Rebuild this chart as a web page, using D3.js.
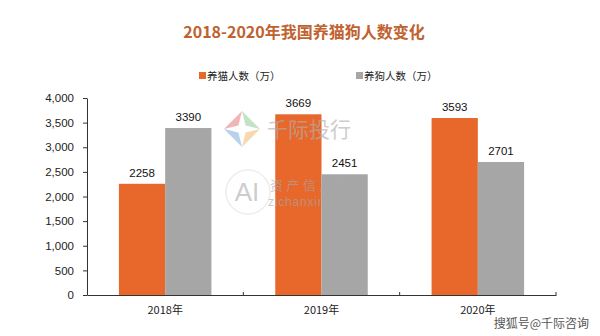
<!DOCTYPE html>
<html>
<head>
<meta charset="utf-8">
<script src="https://cdn.jsdelivr.net/npm/d3@7"></script>
<style>
  html, body { margin: 0; padding: 0; background: #fff; }
  svg { display: block; }
</style>
</head>
<body>
<svg id="chart" width="600" height="336"></svg>
<script>
// Cat and dog owners in China, 2018–2020 (unit: 万 people)
const years = ["2018年", "2019年", "2020年"];
const catOwners = [2258, 3669, 3593];
const dogOwners = [3390, 2451, 2701];
const seriesNames = ["养猫人数（万）", "养狗人数（万）"];
const yTicks = [0, 500, 1000, 1500, 2000, 2500, 3000, 3500, 4000];

(function draw() {
  const colors = ["#E8672A", "#A6A6A6"];
  const svg = d3.select("#chart");
  const font = "Arial, 'Liberation Sans', 'Noto Sans CJK SC', sans-serif";

  const plotLeft = 87, plotRight = 556, plotTop = 98, plotBottom = 295;

  const x = d3.scaleBand().domain(years).range([plotLeft, plotRight]).paddingInner(0).paddingOuter(0);
  const sub = d3.scaleBand().domain([0, 1]).range([0, x.bandwidth()]).paddingInner(0).paddingOuter(0.69);
  const y = d3.scaleLinear().domain([0, 4000]).range([plotBottom, plotTop]);

  // Title
  svg.append("text")
    .attr("x", 304).attr("y", 38)
    .attr("text-anchor", "middle")
    .attr("font-family", "'Noto Sans CJK SC', sans-serif")
    .attr("font-weight", "bold")
    .attr("font-size", 16)
    .attr("fill", "#C0622F")
    .text("2018-2020年我国养猫狗人数变化");

  // Legend
  const legendX = [199, 356];
  seriesNames.forEach((name, i) => {
    const g = svg.append("g").attr("transform", `translate(${legendX[i]},76)`);
    g.append("rect").attr("x", 0).attr("y", -4).attr("width", 7).attr("height", 7).attr("fill", colors[i]);
    g.append("text").attr("x", 8).attr("y", 4)
      .attr("font-family", "'Noto Sans CJK SC', sans-serif").attr("font-size", 10.5)
      .attr("fill", "#222").text(name);
  });

  // Bars
  const data = years.map((yr, i) => ({ yr, vals: [catOwners[i], dogOwners[i]] }));
  const groups = svg.append("g").selectAll("g").data(data).join("g")
    .attr("transform", d => `translate(${x(d.yr)},0)`);
  groups.selectAll("rect").data(d => d.vals).join("rect")
    .attr("x", (v, i) => sub(i))
    .attr("y", v => y(v))
    .attr("width", sub.bandwidth())
    .attr("height", v => y(0) - y(v))
    .attr("fill", (v, i) => colors[i]);
  groups.selectAll("text.val").data(d => d.vals).join("text")
    .attr("class", "val")
    .attr("x", (v, i) => sub(i) + sub.bandwidth() / 2)
    .attr("y", v => y(v) - 7)
    .attr("text-anchor", "middle")
    .attr("font-family", font).attr("font-size", 11.5)
    .attr("fill", "#111")
    .text(v => v);

  // Y axis
  const yAxis = svg.append("g").attr("transform", `translate(${plotLeft},0)`)
    .call(d3.axisLeft(y).tickValues(yTicks).tickSize(4).tickSizeOuter(0).tickFormat(d3.format(",")));
  yAxis.select(".domain").attr("stroke", "#333");
  yAxis.selectAll(".tick line").attr("stroke", "#333");
  yAxis.selectAll(".tick text").attr("font-family", font).attr("font-size", 11.5)
    .attr("fill", "#222").attr("x", -13);

  // X axis
  const xAxis = svg.append("g").attr("transform", `translate(0,${plotBottom})`)
    .call(d3.axisBottom(x).tickSize(0).tickSizeOuter(0));
  xAxis.select(".domain").attr("stroke", "#333");
  xAxis.selectAll(".tick text").attr("font-family", "'Noto Sans CJK SC', Arial, sans-serif")
    .attr("font-size", 11).attr("fill", "#222").attr("dy", "1.45em");
  // Category divider marks
  const dividers = years.slice(1).map(d => x(d)).concat([plotRight]);
  xAxis.selectAll("line.div").data(dividers).join("line")
    .attr("class", "div")
    .attr("x1", d => d).attr("x2", d => d)
    .attr("y1", 0).attr("y2", -3)
    .attr("stroke", "#333");

  // Watermark: 千际投行 mark and text, laid over the plot
  const wm = svg.append("g").attr("opacity", 0.62);
  const cx = 242, cy = 129, r = 18;
  const pts = [[cx, cy - r], [cx + r, cy], [cx, cy + r], [cx - r, cy]];
  const wmColors = ["#9FD3A3", "#F2C27F", "#8FB7E0", "#E88B8B"];
  pts.forEach((p, i) => {
    const q = pts[(i + 1) % 4];
    const mx = (p[0] + q[0]) / 2, my = (p[1] + q[1]) / 2;
    const ix = cx + (mx - cx) * 0.4, iy = cy + (my - cy) * 0.4;
    wm.append("path")
      .attr("d", `M${p[0]},${p[1]} L${q[0]},${q[1]} L${ix},${iy} Z`)
      .attr("fill", wmColors[i]);
  });
  wm.append("text").attr("x", 267).attr("y", 137)
    .attr("font-family", "'Noto Sans CJK SC', sans-serif").attr("font-size", 21)
    .attr("fill", "#B0B0B0").text("千际投行");
  // Watermark: AI 资产信息网
  wm.append("circle").attr("cx", 248).attr("cy", 192).attr("r", 22)
    .attr("fill", "none").attr("stroke", "#E4E4E4").attr("stroke-width", 1.5);
  wm.append("text").attr("x", 247).attr("y", 201).attr("text-anchor", "middle")
    .attr("font-family", "Arial, sans-serif").attr("font-size", 26)
    .attr("fill", "#B0B0B0").text("AI");
  wm.append("text").attr("x", 270).attr("y", 190)
    .attr("font-family", "'Noto Sans CJK SC', sans-serif").attr("font-size", 13)
    .attr("letter-spacing", 3.5).attr("fill", "#A8A8A8").text("资产信息网");
  wm.append("text").attr("x", 268).attr("y", 206)
    .attr("font-family", "Arial, sans-serif").attr("font-size", 12)
    .attr("letter-spacing", 0.8).attr("fill", "#A8A8A8").text("zichanxinxi.com");

  // Source mark
  svg.append("text").attr("x", 589).attr("y", 328).attr("text-anchor", "end")
    .attr("font-family", "'Noto Sans CJK SC', sans-serif").attr("font-size", 12)
    .attr("fill", "#555").text("搜狐号@千际咨询");
})();
</script>
</body>
</html>
